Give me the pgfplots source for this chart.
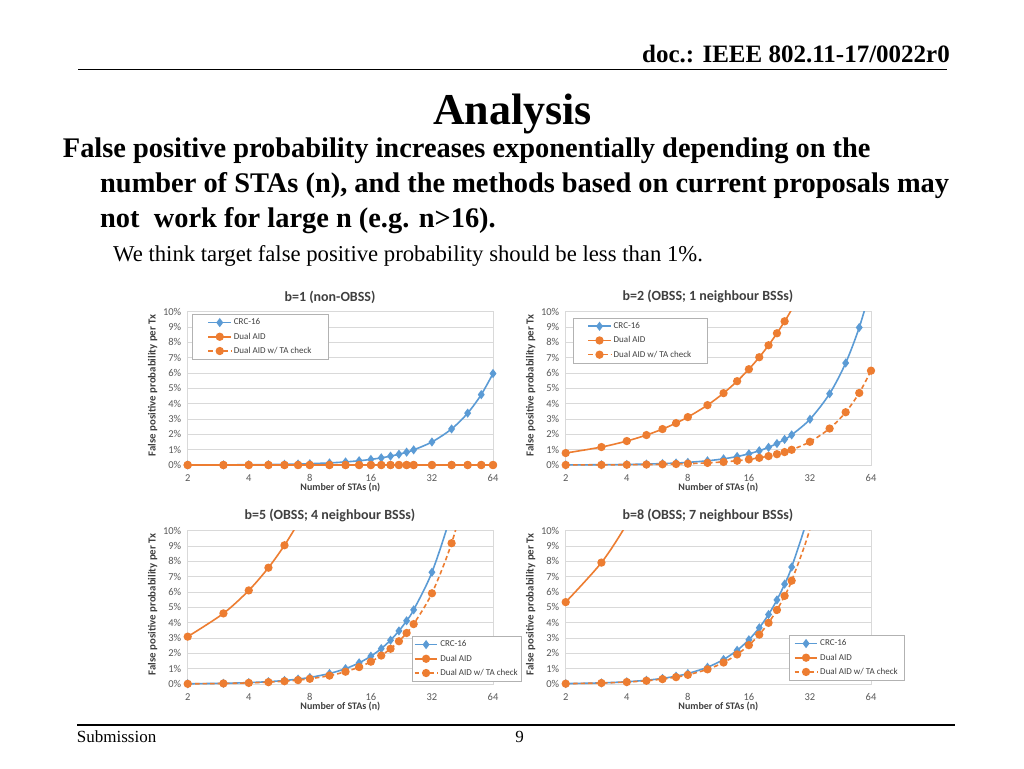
\documentclass[border=0pt]{standalone}
\usepackage{fontspec}
\setmainfont{Liberation Serif}
\newfontfamily\chartfont{Carlito}
\usepackage{pgfplots}
\pgfplotsset{compat=1.18}
\definecolor{xblue}{HTML}{5B9BD5}
\definecolor{xorange}{HTML}{ED7D31}
\definecolor{xgrid}{HTML}{D9D9D9}
\definecolor{xtext}{HTML}{404040}
\definecolor{xtickc}{HTML}{595959}

\newcommand{\xlabs}{\pgfplotsinvokeforeach{2,4,8,16,32,64}{\node[font=\chartfont\fontsize{10.5}{12}\selectfont, text=xtickc, anchor=center, inner sep=0pt, yshift=-12.7pt] at (axis cs:##1,0) {##1};}}

\pgfplotsset{
  legend image code/.code={\draw[mark indices={2}] plot coordinates {(0cm,0cm) (0.4cm,0cm) (0.8cm,0cm)};},
  every axis/.append style={
    scale only axis, width=305.3pt, height=153.3pt,
    xmin=2, xmax=64,
    ymin=0, ymax=10, ytick={0,1,...,10},
    yticklabel={\pgfmathprintnumber[assume math mode=true]{\tick}\%},
    ymajorgrids, grid style={xgrid, line width=0.7pt},
    axis line style={xgrid, line width=0.7pt},
    major tick length=0pt, minor tick length=0pt,
    tick label style={font=\chartfont\fontsize{10.5}{12}\selectfont, text=xtickc},
    yticklabel style={xshift=-3pt},
    xlabel style={font=\chartfont\bfseries\fontsize{10}{12}\selectfont, text=xtext, at={(axis description cs:0.5,-0.15)}, anchor=center},
    ylabel style={font=\chartfont\bfseries\fontsize{10.8}{12}\selectfont, text=xtext, at={(axis description cs:-0.115,0.52)}, anchor=center},
    title style={font=\chartfont\bfseries\fontsize{14}{16}\selectfont, text=xtext, at={(0.466,1)}, anchor=south, yshift=-1pt},
    legend cell align=left,
    legend style={draw=gray!60, fill=white, line width=0.6pt, font=\chartfont\fontsize{9}{11}\selectfont, text=xtext, inner ysep=2.5pt, row sep=2.5pt},
    after end axis/.code={\xlabs},
  },
}
\tikzset{
  crcstyle/.style={xblue, line width=1.6pt, smooth, mark=diamond*, mark size=3.3pt, mark options={solid}},
  dualstyle/.style={xorange, line width=1.6pt, smooth, mark=*, mark size=3.3pt, mark options={solid}},
  tastyle/.style={xorange, line width=1.6pt, smooth, dash pattern=on 4.5pt off 3pt, mark=*, mark size=3.3pt, mark options={solid}},
}

\begin{document}
\begin{tikzpicture}
\fill[white] (0,0) rectangle (1024pt,-768pt);

% slide text
\node[anchor=base east, inner sep=0] at (950pt,-62.7pt) {\fontsize{25}{30}\selectfont\bfseries doc.: IEEE 802.11-17/0022r0};
\draw[line width=1.3pt] (78pt,-69.3pt) -- (947pt,-69.3pt);
\node[anchor=base, inner sep=0] at (512.5pt,-124.3pt) {\fontsize{44}{50}\selectfont\bfseries Analysis};
\node[anchor=base west, inner sep=0] at (62.7pt,-157.7pt) {\fontsize{28.4}{32}\selectfont\bfseries False positive probability increases exponentially depending on the};
\node[anchor=base west, inner sep=0] at (100pt,-192.3pt) {\fontsize{28.4}{32}\selectfont\bfseries number of STAs (n), and the methods based on current proposals may};
\node[anchor=base west, inner sep=0] at (100pt,-227pt) {\fontsize{28.4}{32}\selectfont\bfseries not\ \ work for large n (e.g. n>16).};
\node[anchor=base west, inner sep=0] at (113pt,-261.7pt) {\fontsize{22.7}{26}\selectfont We think target false positive probability should be less than 1\%.};
\draw[line width=1.3pt] (77pt,-725pt) -- (955pt,-725pt);
\node[anchor=base west, inner sep=0] at (76.7pt,-742.3pt) {\fontsize{17}{20}\selectfont Submission};
\node[anchor=base, inner sep=0] at (519.5pt,-742.3pt) {\fontsize{17}{20}\selectfont 9};

% b=1
\begin{axis}[xmode=log, log basis x=2, xtick={2,4,8,16,32,64}, xticklabels={},
  xlabel={Number of STAs (n)}, ylabel={False positive probability per Tx},
  at={(187.7pt,-465pt)}, anchor=south west,
  title={b=1 (non-OBSS)},
  legend style={at={(0.015,0.985)}, anchor=north west, inner xsep=15pt}]
\addplot[crcstyle] coordinates {(2,0.00305)(3,0.00916)(4,0.01831)(5,0.03052)(6,0.04577)(7,0.06407)(8,0.08541)(10,0.13724)(12,0.20122)(14,0.27733)(16,0.36554)(18,0.46583)(20,0.57815)(22,0.70248)(24,0.83875)(26,0.98692)(32,1.5023)(40,2.3523)(48,3.3836)(56,4.5911)(64,5.9669)};
\addlegendentry{CRC-16}
\addplot[dualstyle] coordinates {(2,0)(3,0)(4,0)(5,0)(6,0)(7,0)(8,0)(10,0)(12,0)(14,0)(16,0)(18,0)(20,0)(22,0)(24,0)(26,0)(32,0)(40,0)(48,0)(56,0)(64,0)};
\addlegendentry{Dual AID}
\addplot[tastyle] coordinates {(2,0)(3,0)(4,0)(5,0)(6,0)(7,0)(8,0)(10,0)(12,0)(14,0)(16,0)(18,0)(20,0)(22,0)(24,0)(26,0)(32,0)(40,0)(48,0)(56,0)(64,0)};
\addlegendentry{Dual AID w/ TA check}
\end{axis}

% b=2
\begin{axis}[xmode=log, log basis x=2, xtick={2,4,8,16,32,64}, xticklabels={},
  xlabel={Number of STAs (n)}, ylabel={False positive probability per Tx},
  at={(565.7pt,-465pt)}, anchor=south west,
  title={b=2 (OBSS; 1 neighbour BSSs)},
  legend style={at={(0.024,0.961)}, anchor=north west, inner xsep=14pt}]
\addplot[crcstyle, mark indices={1,...,20}] coordinates {(2,0.0061)(3,0.0183)(4,0.0366)(5,0.0610)(6,0.0915)(7,0.1281)(8,0.1708)(10,0.2743)(12,0.4020)(14,0.5539)(16,0.7298)(18,0.9295)(20,1.1530)(22,1.4000)(24,1.6705)(26,1.9641)(32,2.9820)(40,4.6492)(48,6.6531)(56,8.9717)(64,11.578)};
\addlegendentry{CRC-16}
\addplot[dualstyle, mark indices={1,...,15}] coordinates {(2,0.78125)(3,1.17188)(4,1.5625)(5,1.95313)(6,2.34375)(7,2.73438)(8,3.125)(10,3.90625)(12,4.6875)(14,5.46875)(16,6.25)(18,7.03125)(20,7.8125)(22,8.59375)(24,9.375)(26,10.15625)(32,12.5)};
\addlegendentry{Dual AID}
\addplot[tastyle] coordinates {(2,0.00305)(3,0.00916)(4,0.01831)(5,0.03052)(6,0.04578)(7,0.06409)(8,0.08545)(10,0.13733)(12,0.20142)(14,0.27771)(16,0.36621)(18,0.46692)(20,0.57983)(22,0.70496)(24,0.84229)(26,0.99182)(32,1.51367)(40,2.38037)(48,3.44238)(56,4.69971)(64,6.15234)};
\addlegendentry{Dual AID w/ TA check}
\end{axis}

% b=5
\begin{axis}[xmode=log, log basis x=2, xtick={2,4,8,16,32,64}, xticklabels={},
  xlabel={Number of STAs (n)}, ylabel={False positive probability per Tx},
  at={(187.7pt,-684pt)}, anchor=south west,
  title={b=5 (OBSS; 4 neighbour BSSs)},
  legend style={at={(0.735,0.313)}, anchor=north west, inner xsep=1.5pt}]
\addplot[crcstyle, mark indices={1,...,17}] coordinates {(2,0.01526)(3,0.0458)(4,0.0915)(5,0.1525)(6,0.2286)(7,0.3199)(8,0.4263)(10,0.6843)(12,1.0020)(14,1.3790)(16,1.8144)(18,2.3076)(20,2.8576)(22,3.4634)(24,4.1240)(26,4.8382)(32,7.2890)(40,11.221)(48,15.81)};
\addlegendentry{CRC-16}
\addplot[dualstyle, mark indices={1,...,5}] coordinates {(2,3.0886)(3,4.6056)(4,6.1050)(5,7.5866)(6,9.0505)(7,10.497)(8,11.926)(10,14.733)};
\addlegendentry{Dual AID}
\addplot[tastyle, mark indices={1,...,18}] coordinates {(2,0.01221)(3,0.03662)(4,0.07322)(5,0.12202)(6,0.18298)(7,0.25610)(8,0.34136)(10,0.54819)(12,0.80323)(14,1.10622)(16,1.4568)(18,1.8546)(20,2.2992)(22,2.7902)(24,3.3268)(26,3.9087)(32,5.9186)(40,9.1868)(48,13.075)(56,17.515)};
\addlegendentry{Dual AID w/ TA check}
\end{axis}

% b=8
\begin{axis}[xmode=log, log basis x=2, xtick={2,4,8,16,32,64}, xticklabels={},
  xlabel={Number of STAs (n)}, ylabel={False positive probability per Tx},
  at={(565.7pt,-684pt)}, anchor=south west,
  title={b=8 (OBSS; 7 neighbour BSSs)},
  legend style={at={(0.730,0.320)}, anchor=north west, inner xsep=5pt}]
\addplot[crcstyle, mark indices={1,...,16}] coordinates {(2,0.0244)(3,0.0732)(4,0.1464)(5,0.2438)(6,0.3655)(7,0.5114)(8,0.6813)(10,1.0926)(12,1.5984)(14,2.1972)(16,2.8872)(18,3.6664)(20,4.5327)(22,5.4836)(24,6.5163)(26,7.6279)(32,11.405)(40,17.34)};
\addlegendentry{CRC-16}
\addplot[dualstyle, mark indices={1,...,2}] coordinates {(2,5.342)(3,7.920)(4,10.438)(5,12.896)(6,15.297)};
\addlegendentry{Dual AID}
\addplot[tastyle, mark indices={1,...,16}] coordinates {(2,0.02136)(3,0.06407)(4,0.12810)(5,0.21342)(6,0.31999)(7,0.44775)(8,0.59661)(10,0.95735)(12,1.40142)(14,1.92785)(16,2.5355)(18,3.2230)(20,3.9889)(22,4.8315)(24,5.7491)(26,6.7396)(32,10.126)(40,15.52)};
\addlegendentry{Dual AID w/ TA check}
\end{axis}
\end{tikzpicture}
\end{document}
